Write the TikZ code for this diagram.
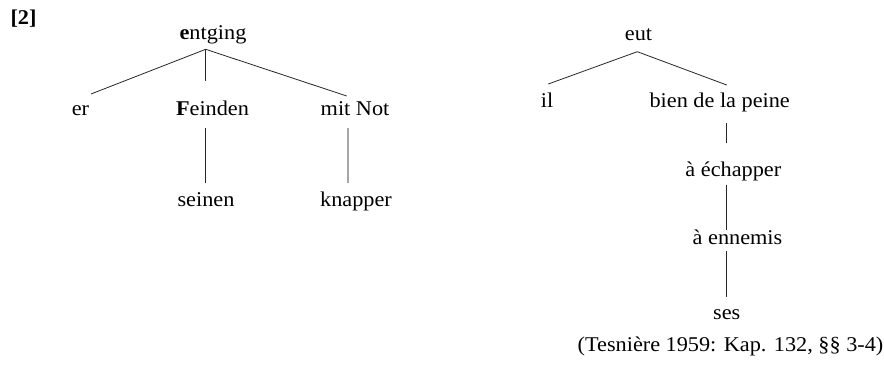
\documentclass[tikz,border=0pt]{standalone}
\usepackage{fontspec}
\setmainfont{Liberation Serif}[FakeStretch=1.06]
\usetikzlibrary{calc}
\tikzset{
  word/.style={anchor=base, inner sep=0pt, font=\fontsize{21}{24}\selectfont},
  link/.style={draw=black!85, line width=0.8pt},
  greylink/.style={draw=black!35, line width=1.6pt}
}
\begin{document}
\begin{tikzpicture}[x=1pt,y=-1pt]
\useasboundingbox (0,0) rectangle (884,387);
% labels
\node[word, font=\fontsize{21}{24}\selectfont\bfseries] (num) at (23.5,25) {[2]};
% left tree
\node[word] (entging) at (213,40) {\textbf{e}ntging};
\node[word] (er) at (80.5,116) {er};
\node[word] (feinden) at (212.5,116) {\textbf{F}einden};
\node[word] (mitnot) at (355,116) {mit Not};
\node[word] (seinen) at (206,207) {seinen};
\node[word] (knapper) at (356,207) {knapper};
\coordinate (apexL) at ($(entging.base)+(-7.3,9.3)$);
\draw[link] (apexL) -- ($(er.base)+(10.5,-22)$);
\draw[link] (apexL) -- ($(feinden.base)+(-6.8,-35)$);
\draw[link] (apexL) -- ($(mitnot.base)+(-8.3,-20)$);
\draw[link] ($(feinden.base)+(-6.8,12)$) -- ($(seinen.base)+(-0.3,-24)$);
\draw[greylink] ($(mitnot.base)+(-7.3,12)$) -- ($(knapper.base)+(-8.3,-24)$);
% right tree
\node[word] (eut) at (638.5,41) {eut};
\node[word] (il) at (547,108) {il};
\node[word] (bien) at (719.7,108) {bien de la peine};
\node[word] (echapper) at (733.3,177) {à échapper};
\node[word] (ennemis) at (737.5,245) {à ennemis};
\node[word] (ses) at (726.7,320) {ses};
\coordinate (apexR) at ($(eut.base)+(-1.2,10.7)$);
\draw[link] (apexR) -- ($(il.base)+(1.3,-24)$);
\draw[link] (apexR) -- ($(bien.base)+(7,-23)$);
\draw[link] ($(bien.base)+(7,15)$) -- ($(echapper.base)+(-6.6,-34)$);
\draw[link] ($(echapper.base)+(-6.6,8)$) -- ($(ennemis.base)+(-10.8,-15)$);
\draw[link] ($(ennemis.base)+(-11.5,6)$) -- ($(ses.base)+(-0.7,-23)$);
% citation
\node[word] (cite) at (730.5,352) {(Tesnière 1959: Kap. 132, §§ 3-4)};
\end{tikzpicture}
\end{document}
